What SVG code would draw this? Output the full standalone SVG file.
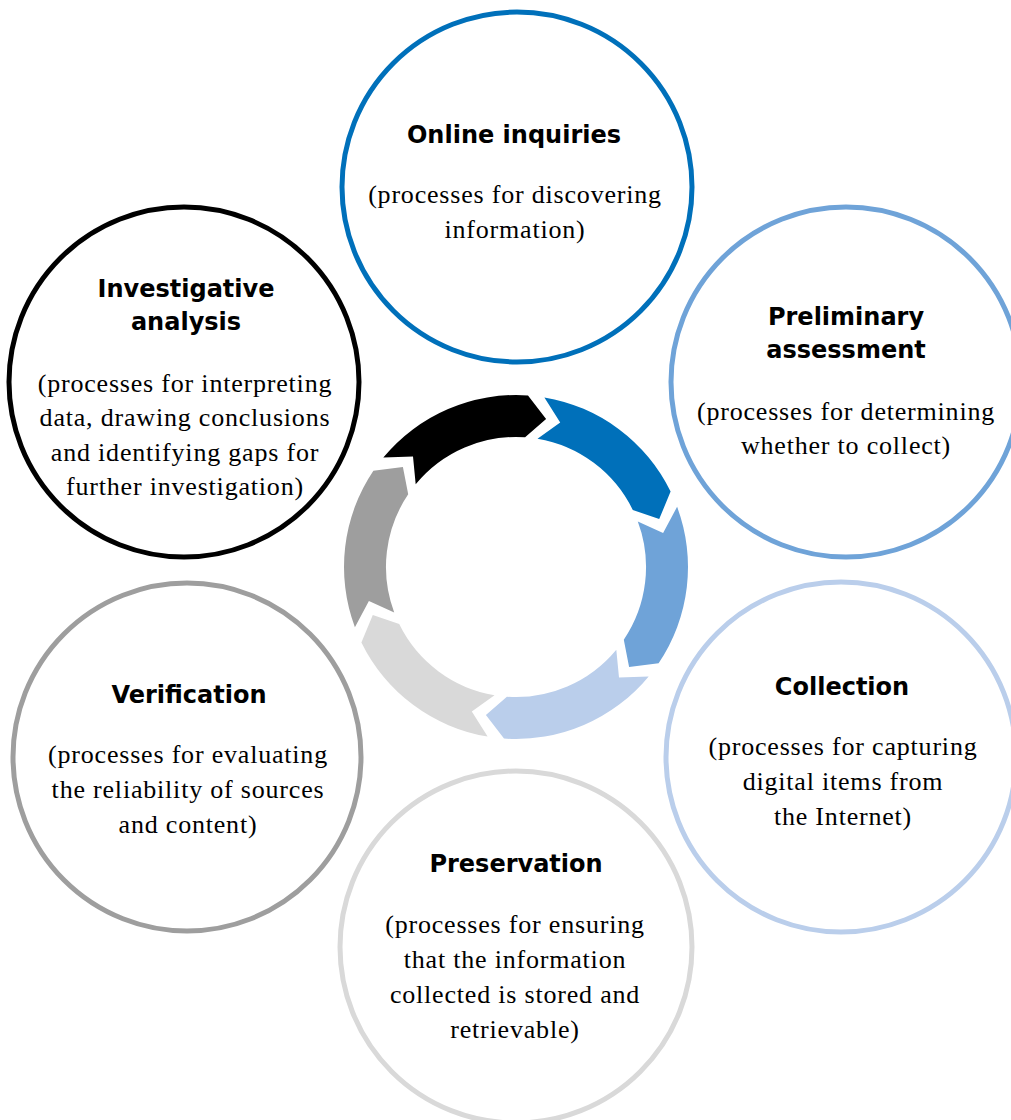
<svg xmlns="http://www.w3.org/2000/svg" width="1011" height="1120" viewBox="0 0 1011 1120">
<style>
.node{fill:#fff;stroke-width:5}
.t{font-family:"DejaVu Sans",sans-serif;font-weight:bold;font-size:24px;fill:#000;text-anchor:middle}
.b{font-family:"Liberation Serif",serif;font-size:26px;letter-spacing:0.8px;fill:#000;text-anchor:middle}
</style>
<rect width="1011" height="1120" fill="#fff"/>
<g id="cycle">
<path fill="#000000" d="M383.3,457.6 A172,172 0 0 1 528.0,395.4 L546.1,419.0 L525.1,437.3 A130,130 0 0 0 415.7,484.3 L413.0,456.6 Z"/>
<path fill="#0070BA" d="M544.4,397.4 A172,172 0 0 1 670.6,491.6 L659.2,519.1 L632.8,510.0 A130,130 0 0 0 537.5,438.8 L560.2,422.6 Z"/>
<path fill="#6FA3D8" d="M677.1,506.8 A172,172 0 0 1 658.6,663.2 L629.1,667.1 L623.8,639.7 A130,130 0 0 0 637.8,521.5 L663.1,533.0 Z"/>
<path fill="#BACEEB" d="M648.7,676.4 A172,172 0 0 1 504.0,738.6 L485.9,715.0 L506.9,696.7 A130,130 0 0 0 616.3,649.7 L619.0,677.4 Z"/>
<path fill="#D9D9D9" d="M487.6,736.6 A172,172 0 0 1 361.4,642.4 L372.8,614.9 L399.2,624.0 A130,130 0 0 0 494.5,695.2 L471.8,711.4 Z"/>
<path fill="#9E9E9E" d="M354.9,627.2 A172,172 0 0 1 373.4,470.8 L402.9,466.9 L408.2,494.3 A130,130 0 0 0 394.2,612.5 L368.9,601.0 Z"/>
</g>
<g id="online-inquiries">
<circle class="node" cx="517" cy="187" r="175" stroke="#0070BA"/>
<text class="t" x="514" y="143">Online inquiries</text>
<text class="b" x="515" y="203">(processes for discovering</text>
<text class="b" x="515" y="238">information)</text>
</g>
<g id="preliminary-assessment">
<circle class="node" cx="846" cy="382" r="175" stroke="#6FA3D8"/>
<text class="t" x="846" y="325">Preliminary</text>
<text class="t" x="846" y="358">assessment</text>
<text class="b" x="846" y="420">(processes for determining</text>
<text class="b" x="846" y="454">whether to collect)</text>
</g>
<g id="collection">
<circle class="node" cx="841" cy="757" r="175" stroke="#BACEEB"/>
<text class="t" x="842" y="695">Collection</text>
<text class="b" x="843" y="755">(processes for capturing</text>
<text class="b" x="843" y="790">digital items from</text>
<text class="b" x="843" y="825">the Internet)</text>
</g>
<g id="preservation">
<circle class="node" cx="516" cy="947" r="176" stroke="#D9D9D9"/>
<text class="t" x="516" y="872">Preservation</text>
<text class="b" x="515" y="933">(processes for ensuring</text>
<text class="b" x="515" y="968">that the information</text>
<text class="b" x="515" y="1003">collected is stored and</text>
<text class="b" x="515" y="1038">retrievable)</text>
</g>
<g id="verification">
<circle class="node" cx="187" cy="757" r="174" stroke="#9E9E9E"/>
<text class="t" x="189" y="703">Verification</text>
<text class="b" x="188" y="763">(processes for evaluating</text>
<text class="b" x="188" y="798">the reliability of sources</text>
<text class="b" x="188" y="833">and content)</text>
</g>
<g id="investigative-analysis">
<circle class="node" cx="184" cy="382" r="175" stroke="#000000"/>
<text class="t" x="186" y="297">Investigative</text>
<text class="t" x="186" y="330">analysis</text>
<text class="b" x="185" y="392">(processes for interpreting</text>
<text class="b" x="185" y="426">data, drawing conclusions</text>
<text class="b" x="185" y="461">and identifying gaps for</text>
<text class="b" x="185" y="495">further investigation)</text>
</g>
</svg>
